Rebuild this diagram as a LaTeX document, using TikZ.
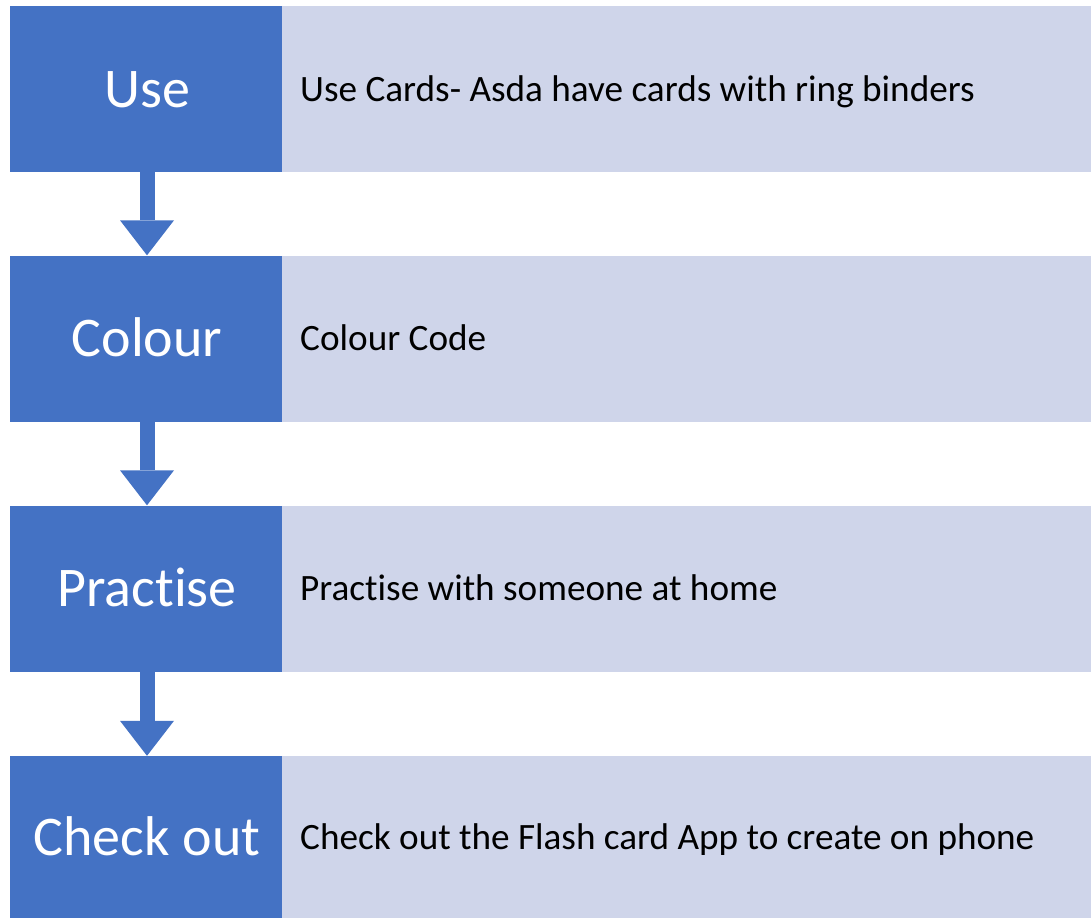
\documentclass[tikz,border=0pt]{standalone}
\usepackage{fontspec}
\setmainfont{Carlito}[Ligatures=NoCommon]
\usetikzlibrary{arrows.meta}
\definecolor{stepblue}{HTML}{4472C4}
\definecolor{steplight}{HTML}{CFD5EA}
\begin{document}
\begin{tikzpicture}[x=1pt,y=-1pt,
  headbox/.style={fill=stepblue, minimum width=272pt, inner sep=0pt},
  bodybox/.style={fill=steplight, minimum width=809pt, inner sep=0pt},
  headtext/.style={anchor=base, inner sep=0pt, text=white, font=\fontsize{56}{60}\selectfont},
  bodytext/.style={anchor=base west, inner sep=0pt, text=black, font=\fontsize{37.2}{42}\selectfont},
  flowarrow/.style={draw=stepblue, line width=15pt, -{Triangle[width=54pt,length=35pt,line width=0pt]}}]
\useasboundingbox (0,0) rectangle (1091,918);
\fill[white] (0,0) rectangle (1091,918);
% rows
\node[headbox, minimum height=166pt] (h1) at (146,89) {};
\node[bodybox, minimum height=166pt] (b1) at (686.5,89) {};
\node[headtext] (l1) at (147,107) {Use};
\node[bodytext] (t1) at (300,101) {Use Cards- Asda have cards with ring binders};
\node[headbox, minimum height=166pt] (h2) at (146,338.5) {};
\node[bodybox, minimum height=166pt] (b2) at (686.5,338.5) {};
\node[headtext] (l2) at (147,356.5) {Colour};
\node[bodytext] (t2) at (300,350.5) {Colour Code};
\node[headbox, minimum height=166pt] (h3) at (146,588.5) {};
\node[bodybox, minimum height=166pt] (b3) at (686.5,588.5) {};
\node[headtext] (l3) at (147,606.5) {Practise};
\node[bodytext] (t3) at (300,600.5) {Practise with someone at home};
\node[headbox, minimum height=162pt] (h4) at (146,837) {};
\node[bodybox, minimum height=162pt] (b4) at (686.5,837) {};
\node[headtext] (l4) at (147,855.5) {Check out};
\node[bodytext] (t4) at (300,849.5) {Check out the Flash card App to create on phone};
% arrows
\draw[flowarrow] ([xshift=1pt]h1.south) -- ([xshift=1pt]h2.north);
\draw[flowarrow] ([xshift=1pt]h2.south) -- ([xshift=1pt]h3.north);
\draw[flowarrow] ([xshift=1pt]h3.south) -- ([xshift=1pt]h4.north);
\end{tikzpicture}
\end{document}
